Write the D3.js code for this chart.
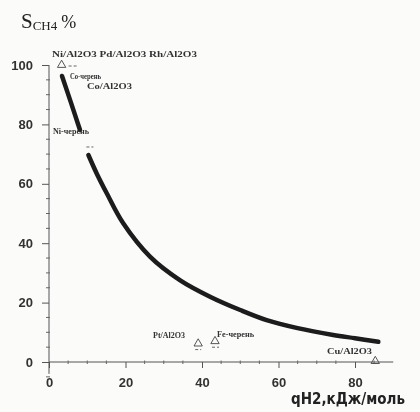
<!DOCTYPE html>
<html>
<head>
<meta charset="utf-8">
<script src="https://cdn.jsdelivr.net/npm/d3@7"></script>
<style>
  html, body { margin: 0; padding: 0; background: #fbfbfa; }
  svg { display: block; }
</style>
</head>
<body>
<svg id="chart" width="420" height="412"></svg>
<script>
// Methane selectivity vs. hydrogen adsorption heat
const yTicks = [0, 20, 40, 60, 80, 100];
const xTicks = [0, 20, 40, 60, 80];

// Upper branch of the selectivity curve (above the Ni-черень label)
const upperQ = [3.4, 5.7, 8.1];
const upperS = [96.3, 87.5, 78.1];

// Lower branch of the selectivity curve
const lowerQ = [10.3, 12.5, 15.1, 19.4, 26.4, 34.2, 42.1, 50.0, 56.9, 65.0, 74.3, 80.0, 86.1];
const lowerS = [69.7, 63.4, 56.8, 46.7, 35.5, 27.6, 22.0, 17.5, 14.1, 11.4, 9.1, 8.0, 6.8];

// Open-triangle catalysts
const pointNames = ["Ni/Al2O3", "Pt/Al2O3", "Fe-черень", "Cu/Al2O3"];
const pointQ = [3.3, 39.0, 43.4, 85.3];
const pointS = [100, 6.2, 7.0, 0.3];

// Catalyst labels
const labelTexts = ["Ni/Al2O3 Pd/Al2O3 Rh/Al2O3", "Co-черень", "Co/Al2O3", "Ni-черень", "Pt/Al2O3", "Fe-черень", "Cu/Al2O3"];

const svg = d3.select("#chart");
const x = d3.scaleLinear().domain([0, 80]).range([49, 355]);
const y = d3.scaleLinear().domain([0, 100]).range([362, 65]);

const soft = svg.append("defs").append("filter").attr("id", "soft");
soft.append("feGaussianBlur").attr("stdDeviation", 0.35);

const g = svg.append("g").attr("filter", "url(#soft)");

// Axis lines
g.append("line")
  .attr("x1", x(0)).attr("x2", x(0))
  .attr("y1", y(-4)).attr("y2", y(100))
  .attr("stroke", "#555").attr("stroke-width", 1);
g.append("line")
  .attr("x1", x(0)).attr("x2", x(90))
  .attr("y1", y(0)).attr("y2", y(0))
  .attr("stroke", "#555").attr("stroke-width", 1);

// Minor ticks every 5 units
const yMinor = d3.range(-5, 100, 5).filter(v => v % 20 !== 0);
g.selectAll(".ymin").data(yMinor).join("line")
  .attr("x1", x(0) - 3).attr("x2", x(0) + 1)
  .attr("y1", d => y(d)).attr("y2", d => y(d))
  .attr("stroke", "#666").attr("stroke-width", 1);
const xMinor = d3.range(5, 90, 5).filter(v => v % 20 !== 0);
g.selectAll(".xmin").data(xMinor).join("line")
  .attr("x1", d => x(d)).attr("x2", d => x(d))
  .attr("y1", y(0) - 1.5).attr("y2", y(0) + 2)
  .attr("stroke", "#666").attr("stroke-width", 1);

// Major axes
const yAxis = d3.axisLeft(y).tickValues(yTicks).tickSize(7).tickPadding(9);
const yG = g.append("g").attr("transform", `translate(${x(0)},0)`).call(yAxis);
const xAxis = d3.axisBottom(x).tickValues(xTicks).tickSize(6).tickPadding(10);
const xG = g.append("g").attr("transform", `translate(0,${y(0)})`).call(xAxis);
[yG, xG].forEach(a => {
  a.select(".domain").remove();
  a.selectAll("line").attr("stroke", "#555");
  a.selectAll("text")
    .attr("fill", "#333")
    .style("font-family", "'Liberation Sans', Arial, sans-serif")
    .style("font-weight", "bold")
    .style("font-size", "13px");
});

// Selectivity curve
const line = d3.line().x(d => x(d[0])).y(d => y(d[1])).curve(d3.curveCatmullRom.alpha(0.5));
[[upperQ, upperS], [lowerQ, lowerS]].forEach(([qs, ss]) => {
  g.append("path")
    .datum(qs.map((q, i) => [q, ss[i]]))
    .attr("d", line)
    .attr("fill", "none")
    .attr("stroke", "#1c1c1c")
    .attr("stroke-width", 4.5)
    .attr("stroke-linecap", "round");
});

// Triangle markers
const tri = d3.symbol().type(d3.symbolTriangle).size(30);
g.selectAll(".pt").data(pointNames).join("path")
  .attr("transform", (d, i) => `translate(${x(pointQ[i])},${y(pointS[i])})`)
  .attr("d", tri)
  .attr("fill", "none")
  .attr("stroke", "#444")
  .attr("stroke-width", 0.9);

// Small dashes beside the markers and the curve break
const dashes = [
  [x(pointQ[0]) + 7, y(pointS[0]) + 1, x(pointQ[0]) + 16, y(pointS[0]) + 1],
  [x(pointQ[1]) - 3, y(pointS[1]) + 6, x(pointQ[1]) + 3, y(pointS[1]) + 6],
  [x(pointQ[2]) - 3, y(pointS[2]) + 6, x(pointQ[2]) + 4, y(pointS[2]) + 6],
  [x(lowerQ[0]) - 2, y(lowerS[0]) - 8, x(lowerQ[0]) + 5, y(lowerS[0]) - 8]
];
g.selectAll(".dash").data(dashes).join("line")
  .attr("x1", d => d[0]).attr("y1", d => d[1])
  .attr("x2", d => d[2]).attr("y2", d => d[3])
  .attr("stroke", "#666").attr("stroke-width", 1)
  .attr("stroke-dasharray", "3,2");

// Label placement: [left x, baseline y, width]
const labelLayout = [
  [52, 57, 145],
  [70, 79, 31],
  [87, 89, 45],
  [53, 134, 36],
  [153, 338, 32],
  [217, 337, 37],
  [327, 354, 45]
];
g.selectAll(".lbl").data(labelTexts).join("text")
  .attr("x", (d, i) => labelLayout[i][0])
  .attr("y", (d, i) => labelLayout[i][1])
  .attr("textLength", (d, i) => labelLayout[i][2])
  .attr("lengthAdjust", "spacingAndGlyphs")
  .attr("fill", "#333")
  .style("font-family", "'Liberation Serif', 'Times New Roman', serif")
  .style("font-weight", "bold")
  .style("font-size", "9px")
  .text(d => d);

// Y-axis title: S_CH4 %
const title = g.append("text")
  .attr("x", 21).attr("y", 28)
  .attr("fill", "#222")
  .style("font-family", "'Liberation Serif', 'Times New Roman', serif");
title.append("tspan").style("font-size", "21px").text("S");
title.append("tspan").attr("dy", 2).style("font-size", "13px").text("CH4");
title.append("tspan").attr("dx", 4).attr("dy", -2).style("font-size", "18px").text("%");

// X-axis title
g.append("text")
  .attr("x", 291).attr("y", 404)
  .attr("textLength", 114)
  .attr("lengthAdjust", "spacingAndGlyphs")
  .attr("fill", "#222")
  .style("font-family", "'DejaVu Sans', sans-serif")
  .style("font-weight", "bold")
  .style("font-size", "15px")
  .text("qH2,кДж/моль");
</script>
</body>
</html>
